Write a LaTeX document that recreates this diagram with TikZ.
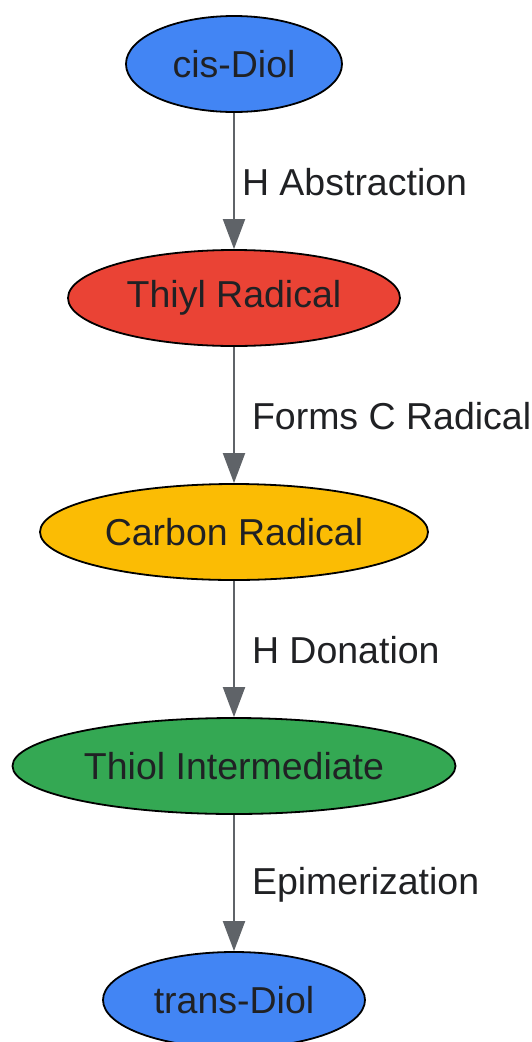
\documentclass[tikz,border=0pt]{standalone}
\usepackage{fontspec}
\setmainfont{Liberation Sans}
\usetikzlibrary{shapes.geometric, arrows.meta}
\definecolor{gblue}{HTML}{4285F4}
\definecolor{gred}{HTML}{EA4335}
\definecolor{gyellow}{HTML}{FBBC04}
\definecolor{ggreen}{HTML}{34A853}
\definecolor{inkgray}{HTML}{202124}
\definecolor{edgegray}{HTML}{5F6368}
\tikzset{
  state/.style={ellipse, draw=black, line width=1.8pt, minimum height=96pt, inner sep=0pt},
  flow/.style={draw=edgegray, line width=2pt, -{Triangle[length=30pt, width=22pt]}},
  steplabel/.style={midway, right, inner sep=0pt, yshift=-1.5pt}
}

\begin{document}
\begin{tikzpicture}[x=1pt, y=-1pt, every node/.style={font=\fontsize{37.5}{42}\selectfont, text=inkgray}]
\useasboundingbox (0,0) rectangle (532,1042);
\node[state, fill=gblue, minimum width=216pt] (cis) at (234,64) {cis-Diol};
\node[state, fill=gred, minimum width=332pt] (thiyl) at (234,298) {Thiyl Radical};
\node[state, fill=gyellow, minimum width=388pt] (carbon) at (234,532) {Carbon Radical};
\node[state, fill=ggreen, minimum width=443pt] (thiol) at (234,766) {Thiol Intermediate};
\node[state, fill=gblue, minimum width=262pt] (trans) at (234,1000) {trans-Diol};
\foreach \a/\b/\lbl/\dx in {cis/thiyl/H Abstraction/7, thiyl/carbon/Forms C Radical/17,
  carbon/thiol/H Donation/17, thiol/trans/Epimerization/17}{
\draw[flow] (\a) -- (\b) node[steplabel, xshift=\dx] {\lbl};
}
\end{tikzpicture}
\end{document}
